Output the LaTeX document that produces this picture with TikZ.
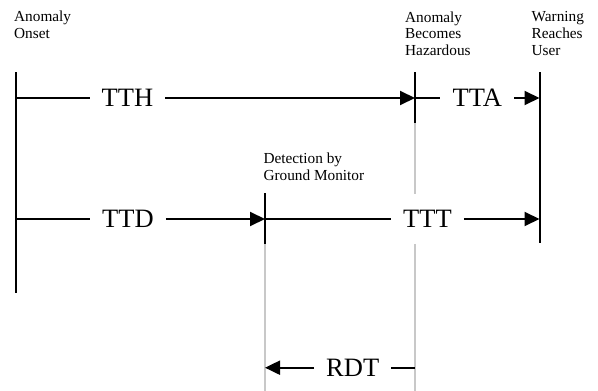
\documentclass[tikz,border=0pt]{standalone}
\usepackage{fontspec}
\setmainfont{Liberation Serif}
\usepackage{tikz}
\usetikzlibrary{arrows.meta}
\definecolor{guidegray}{RGB}{200,200,200}
\def\eventfont{\fontsize{15.3}{16.7}\selectfont}
\def\spanfont{\fontsize{26.5}{30}\selectfont}

\begin{document}
\begin{tikzpicture}[x=1pt,y=-1pt,
    mark line/.style={line width=2pt},
    guide line/.style={line width=2pt,draw=guidegray},
    span/.style={font=\spanfont,inner xsep=12pt,inner ysep=16pt},
    event/.style={font=\eventfont,align=left,anchor=north west,inner sep=0pt},
    timer/.style={line width=2pt,-{Triangle[length=15pt,width=14pt]}}]
    \useasboundingbox (0,0) rectangle (598,391);
    % event markers
    \coordinate (onset top) at (16,72);
    \coordinate (onset bot) at (16,293);
    \coordinate (haz top) at (415,72);
    \coordinate (haz mid) at (415,123);
    \coordinate (haz bot) at (415,391);
    \coordinate (warn top) at (539.5,72);
    \coordinate (warn bot) at (539.5,243);
    \coordinate (det top) at (265,193);
    \coordinate (det mid) at (265,244);
    \coordinate (det bot) at (265,391);
    \node[event] (onset) at (14,10.6) {Anomaly\\Onset};
    \node[event] (hazard) at (405,11.3) {Anomaly\\Becomes\\Hazardous};
    \node[event] (warning) at (531.5,11.6) {Warning\\Reaches\\User};
    \node[event] (detection) at (263.3,153) {Detection by\\Ground Monitor};
    % intervals
    \node[span] (tth) at (127.5,98) {TTH};
    \node[span] (tta) at (477.3,98) {TTA};
    \node[span] (ttd) at (128,219) {TTD};
    \node[span] (ttt) at (427.5,219) {TTT};
    \node[span] (rdt) at (352.7,367.7) {RDT};
    \draw[mark line] (onset top) -- (onset bot);
    \draw[mark line] (haz top) -- (haz mid);
    \draw[guide line] (haz mid) -- (ttt.north -| haz mid);
    \draw[guide line] (ttt.south -| haz mid) -- (haz bot);
    \draw[mark line] (warn top) -- (warn bot);
    \draw[mark line] (det top) -- (det mid);
    \draw[guide line] (det mid) -- (det bot);
    \draw[mark line] (onset top |- tth) -- (tth);
    \draw[timer] (tth) -- (haz top |- tth);
    \draw[mark line] (haz top |- tta) -- (tta);
    \draw[timer] (tta) -- (warn top |- tta);
    \draw[mark line] (onset top |- ttd) -- (ttd);
    \draw[timer] (ttd) -- (det top |- ttd);
    \draw[mark line] (det top |- ttt) -- (ttt);
    \draw[timer] (ttt) -- (warn top |- ttt);
    \draw[timer] (rdt) -- (det top |- rdt);
    \draw[mark line] (rdt) -- (haz top |- rdt);
\end{tikzpicture}
\end{document}
